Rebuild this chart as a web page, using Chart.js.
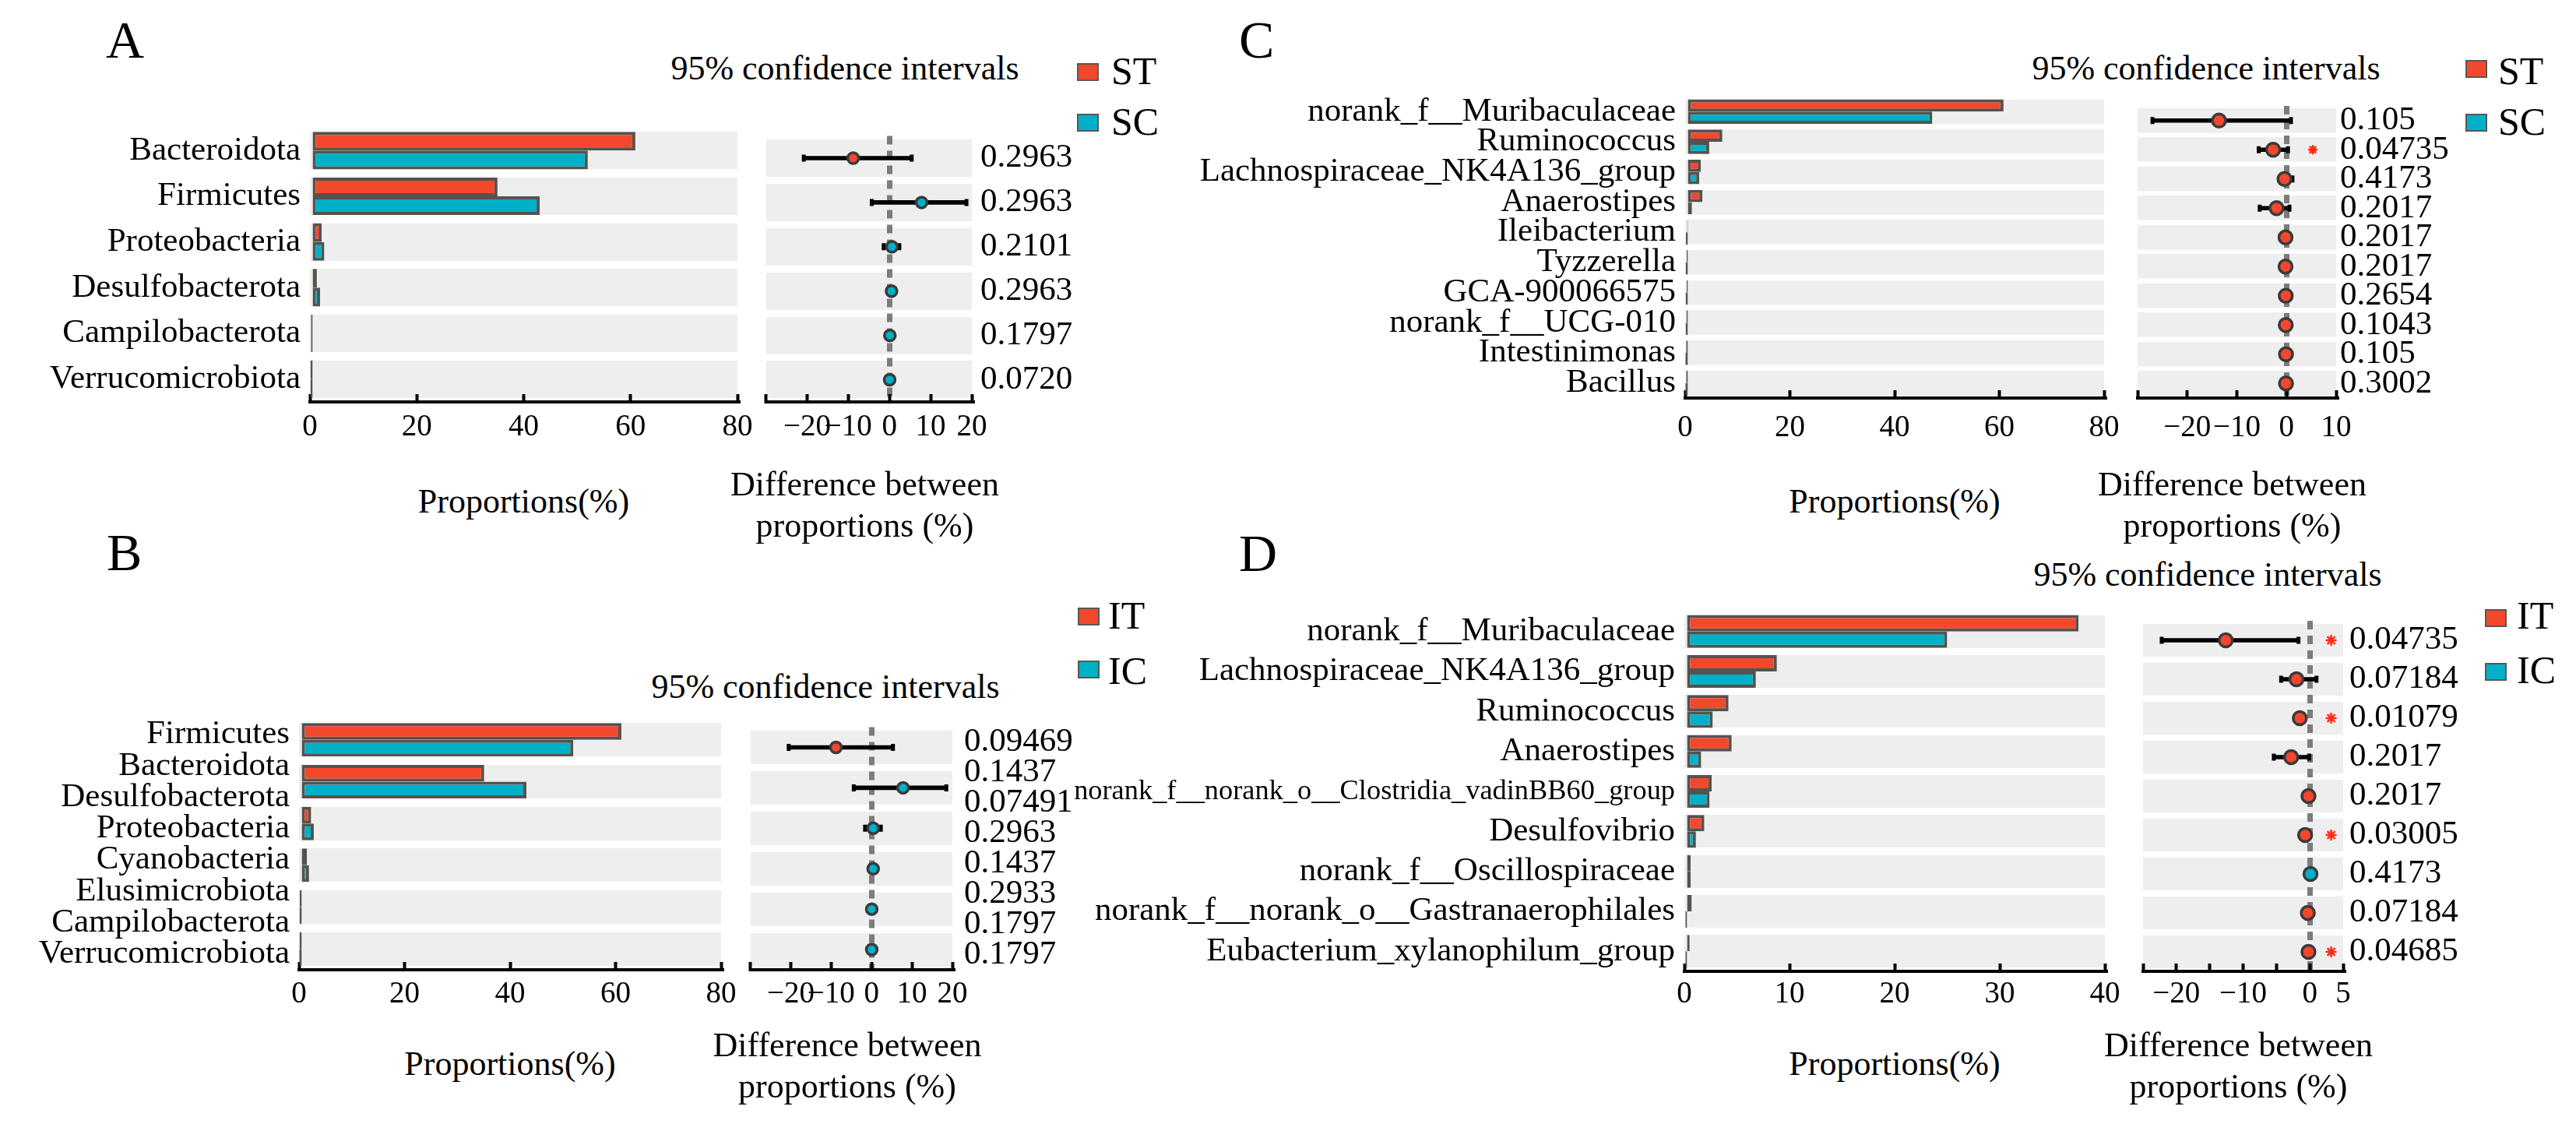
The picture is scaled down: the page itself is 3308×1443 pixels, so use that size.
<!DOCTYPE html>
<html>
<head>
<meta charset="utf-8">
<script src="https://cdn.jsdelivr.net/npm/chart.js"></script>
<style>
  html, body { margin: 0; padding: 0; background: #fff; }
  #page { position: relative; width: 3308px; height: 1443px; overflow: hidden; font-family: "Liberation Serif", "Times New Roman", serif; color: #000; }
  canvas { position: absolute; }
  .txt { position: absolute; white-space: nowrap; }
  .key { position: absolute; width: 28px; height: 23px; border: 2px solid #5a5852; box-sizing: border-box; }
</style>
</head>
<body>
<div id="page"></div>
<script>
// ---- A : phylum, ST vs SC
var aCats = ['Bacteroidota', 'Firmicutes', 'Proteobacteria', 'Desulfobacterota', 'Campilobacterota', 'Verrucomicrobiota'];
var aST = [60.9, 35.1, 2.2, 1.3, 0.2, 0.1];
var aSC = [52.0, 43.0, 2.7, 1.9, 0.2, 0.1];
var aDiff = [-8.8, 7.8, 0.6, 0.5, 0.1, 0.05];
var aLow = [-20.8, -4.3, -1.4, 0.1, -0.1, -0.1];
var aHigh = [5.4, 18.7, 2.4, 0.9, 0.3, 0.2];
var aP = ['0.2963', '0.2963', '0.2101', '0.2963', '0.1797', '0.0720'];

// ---- B : phylum, IT vs IC (8 names / p values printed over 6 rows)
var bLabels = ['Firmicutes', 'Bacteroidota', 'Desulfobacterota', 'Proteobacteria', 'Cyanobacteria', 'Elusimicrobiota', 'Campilobacterota', 'Verrucomicrobiota'];
var bRows = ['row1', 'row2', 'row3', 'row4', 'row5', 'row6'];
var bIT = [61.1, 35.1, 2.3, 1.5, 0.15, 0.1];
var bIC = [52.0, 43.1, 2.8, 1.9, 0.1, 0.05];
var bDiff = [-8.8, 7.8, 0.4, 0.4, 0.05, 0.05];
var bLow = [-20.5, -4.4, -1.6, 0.1, -0.1, -0.1];
var bHigh = [5.3, 18.5, 2.3, 0.8, 0.2, 0.2];
var bP = ['0.09469', '0.1437', '0.07491', '0.2963', '0.1437', '0.2933', '0.1797', '0.1797'];

// ---- C : genus, ST vs SC
var cCats = ['norank_f__Muribaculaceae', 'Ruminococcus', 'Lachnospiraceae_NK4A136_group', 'Anaerostipes', 'Ileibacterium', 'Tyzzerella', 'GCA-900066575', 'norank_f__UCG-010', 'Intestinimonas', 'Bacillus'];
var cST = [60.8, 7.1, 3.0, 3.3, 0.4, 0.3, 0.3, 0.25, 0.2, 0.2];
var cSC = [47.2, 4.6, 2.7, 1.3, 0.15, 0.1, 0.1, 0.1, 0.05, 0.05];
var cDiff = [-13.6, -2.7, -0.4, -2.0, -0.2, -0.2, -0.15, -0.15, -0.1, -0.1];
var cLow = [-27.0, -5.6, -1.2, -5.4, -0.5, -0.4, -0.3, -0.3, -0.3, -0.3];
var cHigh = [0.9, 0.3, 1.2, 0.6, 0.1, 0.0, 0.0, 0.0, 0.1, 0.1];
var cP = ['0.105', '0.04735', '0.4173', '0.2017', '0.2017', '0.2017', '0.2654', '0.1043', '0.105', '0.3002'];

// ---- D : genus, IT vs IC
var dCats = ['norank_f__Muribaculaceae', 'Lachnospiraceae_NK4A136_group', 'Ruminococcus', 'Anaerostipes', 'norank_f__norank_o__Clostridia_vadinBB60_group', 'Desulfovibrio', 'norank_f__Oscillospiraceae', 'norank_f__norank_o__Gastranaerophilales', 'Eubacterium_xylanophilum_group'];
var dIT = [37.5, 8.8, 4.2, 4.5, 2.6, 1.9, 0.6, 0.7, 0.5];
var dIC = [25.0, 6.8, 2.7, 1.6, 2.4, 1.1, 0.6, 0.1, 0.1];
var dDiff = [-12.6, -2.0, -1.5, -2.8, -0.2, -0.7, 0.1, -0.3, -0.2];
var dLow = [-22.2, -4.3, -2.0, -5.4, -0.5, -1.2, -0.2, -0.6, -0.5];
var dHigh = [-1.7, 1.0, -1.0, -0.1, 0.1, -0.2, 0.4, 0.0, 0.1];
var dP = ['0.04735', '0.07184', '0.01079', '0.2017', '0.2017', '0.03005', '0.4173', '0.07184', '0.04685'];

// ---- axis ticks
var propTicks80 = [0, 20, 40, 60, 80];
var propTicks40 = [0, 10, 20, 30, 40];
var diffTicksAB = [-30, -20, -10, 0, 10, 20];
var diffShownAB = [-20, -10, 0, 10, 20];
var diffTicksC = [-30, -20, -10, 0, 10];
var diffShownC = [-20, -10, 0, 10];
var diffTicksD = [-25, -20, -15, -10, -5, 0, 5];
var diffShownD = [-20, -10, 0, 5];

var FONT = '"Liberation Serif", "Times New Roman", serif';
var RED = '#f4482d', TEAL = '#00b0c8', EDGE = '#55534e', BAND = '#eeeeee', DOTEDGE = '#3a3a3a';
var LAB = 43;
var RIGHT = 45;
var page = document.getElementById('page');

function fixSize(w, h) {
  return function (s) {
    if (w !== null) s.width = w;
    if (h !== null) s.height = h;
    s.paddingLeft = 0; s.paddingRight = 0; s.paddingTop = 0; s.paddingBottom = 0;
  };
}

function useTicks(list) {
  return function (s) { s.ticks = list.map(function (v) { return { value: v }; }); };
}

// shrink only labels that would not fit the space left of the plot
function fitSizes(list, maxW) {
  var c = document.createElement('canvas').getContext('2d');
  c.font = LAB + 'px ' + FONT;
  return list.map(function (t) {
    var w = c.measureText(t).width;
    return w > maxW ? LAB * maxW / w : LAB;
  });
}

function addCanvas(x, y, w, h) {
  var cv = document.createElement('canvas');
  cv.width = w; cv.height = h;
  cv.style.left = x + 'px'; cv.style.top = y + 'px';
  page.appendChild(cv);
  return cv;
}

function xAxis(ticks, shown, tickOff, zeroLine) {
  return {
    type: 'linear', position: 'bottom',
    min: ticks[0], max: ticks[ticks.length - 1],
    afterBuildTicks: useTicks(ticks),
    afterFit: fixSize(null, 90),
    grid: {
      drawOnChartArea: zeroLine, z: -1, lineWidth: 7,
      color: function (ctx) { return ctx.tick && ctx.tick.value === 0 ? '#7c7c7c' : 'rgba(0,0,0,0)'; },
      drawTicks: true, tickLength: -10, tickWidth: 4, tickColor: '#000', tickBorderDash: []
    },
    border: { display: true, color: '#000', width: 4, dash: zeroLine ? [11, 8] : [] },
    ticks: {
      autoSkip: false, maxRotation: 0, color: '#000', padding: tickOff + 10 - 23.4,
      font: { family: FONT, size: 39, lineHeight: 1.2 },
      callback: function (v) { return shown.indexOf(v) < 0 ? '' : String(v).replace('-', '\u2212'); }
    }
  };
}

function bandAxis(band) {
  return {
    type: 'category', position: 'left', offset: true,
    afterFit: fixSize(0, null),
    grid: { offset: false, color: BAND, lineWidth: band, drawTicks: false, z: -2 },
    border: { display: false },
    ticks: { display: false, autoSkip: false }
  };
}

function textAxis(list, side, width, pad, sizes) {
  return {
    type: 'category', labels: list, position: side, offset: true,
    afterFit: fixSize(width, null),
    grid: { display: false, drawTicks: false },
    border: { display: false },
    ticks: {
      autoSkip: false, color: '#000', padding: pad,
      font: function (ctx) { return { family: FONT, size: sizes ? sizes[ctx.index] : LAB, lineHeight: 1.2 }; }
    }
  };
}

function baseOptions(scales, padRight) {
  return {
    indexAxis: 'y', responsive: false, animation: false, events: [], devicePixelRatio: 1,
    layout: { padding: { left: 0, top: 0, bottom: 0, right: padRight } },
    plugins: { legend: { display: false }, tooltip: { enabled: false } },
    scales: scales
  };
}

function barPanel(g, rows, shown, t, c, ticks) {
  var cv = addCanvas(g.x0 - g.labW, g.y0, g.x1 - g.x0 + g.labW + RIGHT, g.y1 - g.y0 + 90);
  var band = g.frac * (g.y1 - g.y0) / rows.length;
  var sets = [
    { label: g.keys[0], data: t, backgroundColor: RED },
    { label: g.keys[1], data: c, backgroundColor: TEAL }
  ].map(function (d) {
    d.xAxisID = 'x'; d.yAxisID = 'y';
    d.borderColor = EDGE; d.borderWidth = 4; d.borderSkipped = false;
    d.categoryPercentage = g.frac; d.barPercentage = 1;
    return d;
  });
  new Chart(cv, {
    type: 'bar',
    data: { labels: rows, datasets: sets },
    options: baseOptions({
      x: xAxis(ticks, ticks, g.tickOff, false),
      y: bandAxis(band),
      yLab: textAxis(shown, 'left', g.labW, 12, fitSizes(shown, g.fitW))
    }, RIGHT)
  });
}

function dotPanel(g, rows, diff, lo, hi, pList, ticks, shown) {
  var cv = addCanvas(g.d0, g.y0, g.d1 - g.d0 + g.pW, g.y1 - g.y0 + 90);
  var band = g.frac * (g.y1 - g.y0) / rows.length;
  function pts(arr) { return rows.map(function (r, i) { return { x: arr[i], y: r }; }); }
  var stars = [];
  if (pList.length === rows.length) {
    rows.forEach(function (r, i) { if (parseFloat(pList[i]) < 0.05) stars.push({ x: g.starAt, y: r }); });
  }
  var cap = { type: 'scatter', pointStyle: 'line', pointRotation: 90, pointRadius: 4.5, pointBorderWidth: 5, pointBorderColor: '#000', order: 3 };
  var sets = [
    { type: 'bar', data: rows.map(function (r, i) { return [lo[i], hi[i]]; }), backgroundColor: '#000', borderWidth: 0, barThickness: 5, order: 4 },
    Object.assign({ data: pts(lo) }, cap),
    Object.assign({ data: pts(hi) }, cap),
    { type: 'scatter', data: pts(diff), pointRadius: g.dot, pointBorderWidth: 3.5, pointBorderColor: DOTEDGE,
      pointBackgroundColor: diff.map(function (v) { return v > 0 ? TEAL : RED; }), order: 2 },
    { type: 'scatter', data: stars, pointStyle: 'star', pointRadius: g.star, pointBorderWidth: 2.5, pointBorderColor: '#ff2a14', order: 1 }
  ].map(function (d) { d.xAxisID = 'x'; d.yAxisID = 'y'; return d; });
  new Chart(cv, {
    type: 'bar',
    data: { labels: rows, datasets: sets },
    options: baseOptions({
      x: xAxis(ticks, shown, g.tickOff, true),
      y: bandAxis(band),
      yP: textAxis(pList, 'right', g.pW, g.pPad)
    }, 0)
  });
}

function text(str, x, baseline, size, center) {
  var d = document.createElement('div');
  d.className = 'txt';
  d.textContent = str;
  d.style.fontSize = size + 'px';
  d.style.lineHeight = size + 'px';
  d.style.top = (baseline - 0.8375 * size) + 'px';
  d.style.left = x + 'px';
  if (center) d.style.transform = 'translateX(-50%)';
  page.appendChild(d);
}

function key(x, y, color) {
  var d = document.createElement('div');
  d.className = 'key';
  d.style.left = x + 'px'; d.style.top = y + 'px';
  d.style.background = color;
  page.appendChild(d);
}

// layout in page pixels
var gA = { x0: 398, x1: 947, d0: 973, d1: 1248, y0: 164, y1: 516, labW: 398, fitW: 380, pW: 200, pPad: 11, tickOff: 33, frac: 0.82, dot: 7, star: 6, starAt: 12, keys: ['ST', 'SC'] };
var gB = { x0: 384, x1: 926, d0: 953, d1: 1223, y0: 923, y1: 1245, labW: 384, fitW: 370, pW: 200, pPad: 15, tickOff: 32, frac: 0.80, dot: 7, star: 6, starAt: 12, keys: ['IT', 'IC'] };
var gC = { x0: 2164, x1: 2702, d0: 2733, d1: 3000, y0: 124, y1: 511, labW: 700, fitW: 680, pW: 230, pPad: 5, tickOff: 39, frac: 0.815, dot: 8.5, star: 6, starAt: 5.3, keys: ['ST', 'SC'] };
var gD = { x0: 2163, x1: 2703, d0: 2740, d1: 3009, y0: 785, y1: 1247, labW: 820, fitW: 772, pW: 230, pPad: 8, tickOff: 30, frac: 0.82, dot: 8.5, star: 7, starAt: 3.2, keys: ['IT', 'IC'] };

barPanel(gA, aCats, aCats, aST, aSC, propTicks80);
dotPanel(gA, aCats, aDiff, aLow, aHigh, aP, diffTicksAB, diffShownAB);
barPanel(gB, bRows, bLabels, bIT, bIC, propTicks80);
dotPanel(gB, bRows, bDiff, bLow, bHigh, bP, diffTicksAB, diffShownAB);
barPanel(gC, cCats, cCats, cST, cSC, propTicks80);
dotPanel(gC, cCats, cDiff, cLow, cHigh, cP, diffTicksC, diffShownC);
barPanel(gD, dCats, dCats, dIT, dIC, propTicks40);
dotPanel(gD, dCats, dDiff, dLow, dHigh, dP, diffTicksD, diffShownD);

// panel letters, CI headers, legends, axis titles
text('A', 136, 74, 68); text('B', 137, 732, 68); text('C', 1591, 74, 68); text('D', 1591, 733, 68);
text('95% confidence intervals', 1085, 103, 44, true);
text('95% confidence intervals', 1060, 897, 44, true);
text('95% confidence intervals', 2833, 103, 44, true);
text('95% confidence intervals', 2835, 753, 44, true);

key(1383, 81, RED); key(1383, 146, TEAL); text(gA.keys[0], 1427, 108, 50); text(gA.keys[1], 1427, 173, 50);
key(1384, 780, RED); key(1384, 848, TEAL); text(gB.keys[0], 1423, 807, 50); text(gB.keys[1], 1423, 878, 50);
key(3166, 77, RED); key(3166, 146, TEAL); text(gC.keys[0], 3208, 108, 50); text(gC.keys[1], 3208, 173, 50);
key(3191, 782, RED); key(3191, 851, TEAL); text(gD.keys[0], 3232, 807, 50); text(gD.keys[1], 3232, 877, 50);

[[gA, 659, 637], [gB, 1381, 1357], [gC, 659, 637], [gD, 1381, 1357]].forEach(function (t) {
  var g = t[0];
  text('Proportions(%)', (g.x0 + g.x1) / 2, t[1], 44, true);
  text('Difference between', (g.d0 + g.d1) / 2, t[2], 44, true);
  text('proportions (%)', (g.d0 + g.d1) / 2, t[2] + 53, 44, true);
});
</script>
</body>
</html>
